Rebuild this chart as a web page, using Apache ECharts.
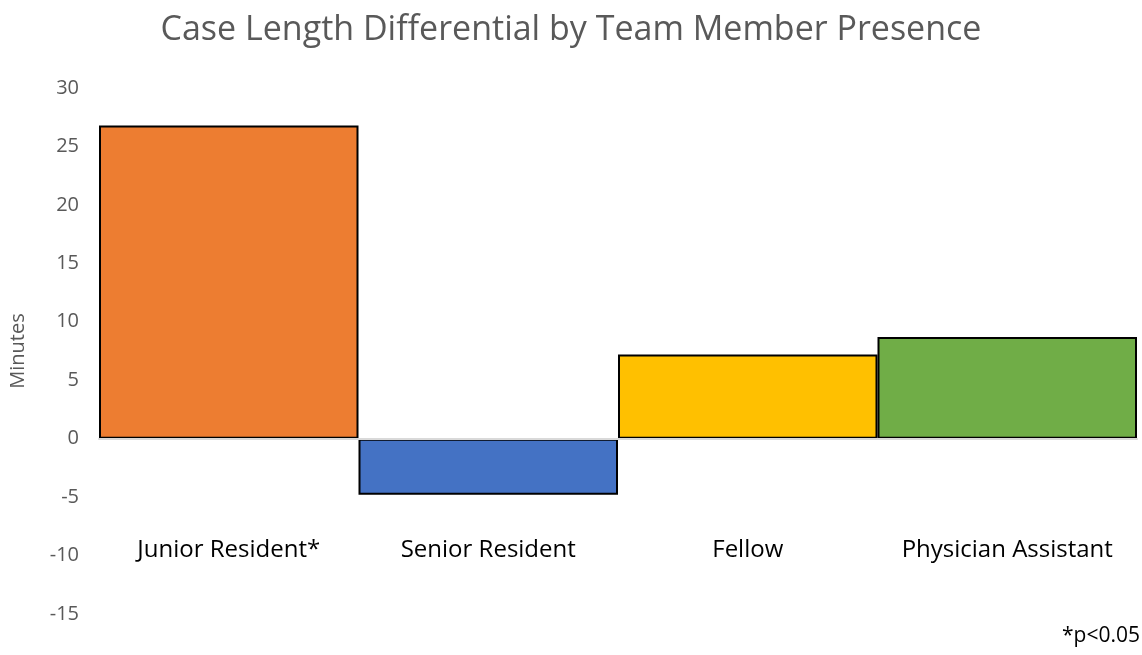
<!DOCTYPE html>
<html>
<head>
<meta charset="utf-8">
<script src="https://cdn.jsdelivr.net/npm/echarts@6/dist/echarts.min.js"></script>
<style>html,body{margin:0;padding:0;background:#fff}#c{width:1142px;height:655px}</style>
</head>
<body>
<div id="c"></div>
<script>
const categories = ["Junior Resident*", "Senior Resident", "Fellow", "Physician Assistant"];
const values = [26.8, -4.8, 7.2, 8.7];
const barColors = ["#ED7D31", "#4472C4", "#FFC000", "#70AD47"];
const yTicks = {min: -15, max: 30, interval: 5};

const FONT = "'Open Sans', sans-serif";
const chart = echarts.init(document.getElementById('c'));
chart.setOption({
  backgroundColor: '#fff',
  animation: false,
  title: {
    text: 'Case Length Differential by Team Member Presence',
    left: 'center', top: 8,
    textStyle: {fontFamily: FONT, fontSize: 34, fontWeight: 'normal', color: '#595959'}
  },
  graphic: [{
    type: 'text', right: 2, top: 626,
    style: {text: '*p<0.05', font: "21px " + FONT, fill: '#000'}
  }],
  grid: {left: 96, right: 5, top: 88, bottom: 41},
  xAxis: [{
    type: 'category', data: categories, z: 10,
    axisLine: {onZero: true, lineStyle: {color: '#d9d9d9', width: 2}},
    axisTick: {show: false}, axisLabel: {show: false}
  }, {
    type: 'category', data: categories, position: 'bottom', offset: -84,
    axisLine: {show: false}, axisTick: {show: false},
    axisLabel: {fontFamily: FONT, fontSize: 24, color: '#000', margin: 8, interval: 0}
  }],
  yAxis: {
    type: 'value', min: yTicks.min, max: yTicks.max, interval: yTicks.interval,
    name: 'Minutes', nameLocation: 'middle', nameRotate: 90, nameGap: 71,
    nameTextStyle: {fontFamily: FONT, fontSize: 20, color: '#595959'},
    axisLine: {show: false}, axisTick: {show: false}, splitLine: {show: false},
    axisLabel: {fontFamily: FONT, fontSize: 20, color: '#595959', margin: 20}
  },
  series: [{
    type: 'bar', xAxisIndex: 0, barWidth: '100%',
    data: values.map((v, i) => ({value: v, itemStyle: {color: barColors[i]}})),
    itemStyle: {borderColor: '#000', borderWidth: 2}
  }]
});
</script>
</body>
</html>
